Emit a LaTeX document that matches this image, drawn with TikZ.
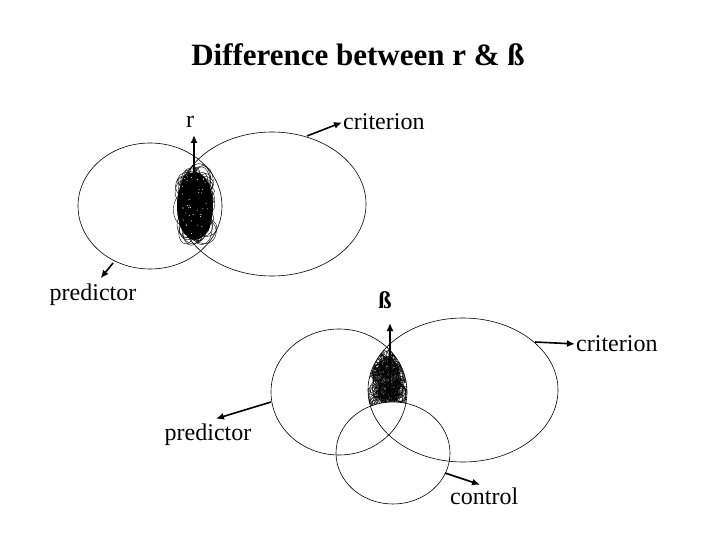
\documentclass[tikz,border=0pt]{standalone}
\usepackage{fontspec}
\setmainfont{Liberation Serif}
\usetikzlibrary{arrows.meta}
\begin{document}
\begin{tikzpicture}[x=1pt,y=-1pt,
  lbl/.style={inner sep=0pt,font=\fontsize{24}{24}\selectfont},
  ring/.style={draw=black,line width=0.6pt},
  arr/.style={line width=1.6pt,-{Latex[length=8pt,width=7pt]},shorten >=1pt},
  scrib/.style={line width=0.4pt}]
\useasboundingbox[fill=white] (0,0) rectangle (720,540);

% title
\node[inner sep=0pt,font=\fontsize{31}{31}\selectfont\bfseries] (title) at (358,55) {Difference between r \& ß};

% ---------- top diagram ----------
\coordinate (pc) at (150,206);
\coordinate (cc) at (272,204);
\draw[ring] (pc) ellipse [x radius=72, y radius=63];
\draw[ring] (cc) ellipse [x radius=94, y radius=72];
% scribbled overlap
\pgfmathsetseed{11}
\fill[black] (195,206) ellipse [x radius=18, y radius=34];
\foreach \i in {1,...,110}{
  \pgfmathsetmacro\cx{195+11*rand}
  \pgfmathsetmacro\cy{206+28*rand}
  \pgfmathsetmacro\rx{4+8*rnd}
  \pgfmathsetmacro\ry{5+12*rnd}
  \draw[scrib] (\cx,\cy) ellipse [x radius=\rx, y radius=\ry];
}
\foreach \i in {1,...,40}{
  \pgfmathsetmacro\cx{195+13*rand}
  \pgfmathsetmacro\cy{206+30*rand}
  \fill[white] (\cx,\cy) circle [radius=0.5];
}
\coordinate (ra) at (194,208);
\node[lbl] (rl) at (190,122) {r};
\draw[arr] (ra) -- (194,134) coordinate (rt);
\coordinate (ca) at (307,136);
\node[lbl,anchor=west] (cl) at (343,122) {criterion};
\draw[arr] (ca) -- (cl.west);
\coordinate (pa) at (113,263);
\node[lbl] (pl) at (93,295) {predictor};
\draw[arr] (pa) -- (100,279) coordinate (pt);

% ---------- bottom diagram ----------
\coordinate (bp) at (339,392);
\coordinate (bc) at (463,390);
\coordinate (bk) at (393,453);
\begin{scope}
  \clip (bp) ellipse [x radius=68, y radius=63];
  \clip (bc) ellipse [x radius=95, y radius=72];
  \pgfmathsetseed{5}
  \foreach \i in {1,...,150}{
    \pgfmathsetmacro\cx{388+16*rand}
    \pgfmathsetmacro\cy{378+28*rand}
    \pgfmathsetmacro\rx{3+6*rnd}
    \pgfmathsetmacro\ry{3+7*rnd}
    \draw[scrib] (\cx,\cy) ellipse [x radius=\rx, y radius=\ry];
  }
  \fill[black,opacity=0.5] (388,382) ellipse [x radius=13, y radius=24];
\end{scope}
\fill[white] (bk) ellipse [x radius=57, y radius=51];
\draw[ring] (bp) ellipse [x radius=68, y radius=63];
\draw[ring] (bc) ellipse [x radius=95, y radius=72];
\draw[ring] (bk) ellipse [x radius=57, y radius=51];

\node[lbl,font=\fontsize{24}{24}\selectfont\bfseries] (bl) at (385,300) {ß};
\coordinate (ba) at (390,396);
\draw[arr] (ba) -- (390,322) coordinate (bt);
\coordinate (bca) at (535,342);
\node[lbl,anchor=west] (bcl) at (576,344) {criterion};
\draw[arr] (bca) -- (bcl.west);
\coordinate (bpa) at (271,402);
\node[lbl] (bpl) at (208,435) {predictor};
\draw[arr] (bpa) -- (215,419) coordinate (bpt);
\coordinate (bka) at (445,473);
\node[lbl,anchor=west] (bkl) at (450,496) {control};
\draw[arr] (bka) -- (481,485) coordinate (bkt);
\end{tikzpicture}
\end{document}
